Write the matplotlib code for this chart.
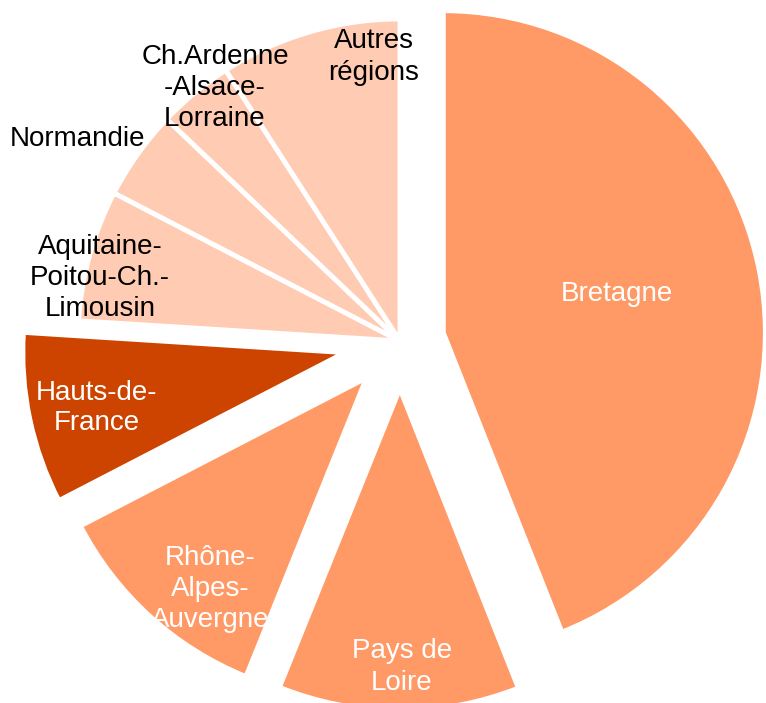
import matplotlib.pyplot as plt

# parts of the pie, in %, clockwise from 12 o'clock
regions = ["Bretagne", "Pays de\nLoire", "Rhône-\nAlpes-\nAuvergne", "Hauts-de-\nFrance",
           "Aquitaine-\nPoitou-Ch.-\nLimousin", "Normandie", "Ch.Ardenne\n-Alsace-\nLorraine",
           "Autres\nrégions"]
shares = [44.0, 12.1, 11.3, 8.6, 6.6, 4.5, 3.8, 9.1]

mid = "#FF9966"
dark = "#CC4400"
light = "#FFCBB3"
colors = [mid, mid, mid, dark, light, light, light, light]
text_colors = ["white", "white", "white", "white", "black", "black", "black", "black"]
R = 322
explode = [f * R for f in [0.137, 0.148, 0.155, 0.175, 0, 0, 0, 0]]

# label centres in pixels (x, y from top)
label_pos = [(617, 294), (402, 667), (210, 589), (97, 408),
             (100, 278), (78, 139), (215, 88), (374, 57)]

W, H = 766, 703
fig = plt.figure(figsize=(W / 100, H / 100), dpi=100)
ax = fig.add_axes([0, 0, 1, 1])

ax.pie(shares, colors=colors, explode=explode, startangle=90, counterclock=False,
       center=(400, H - 341), radius=R,
       wedgeprops=dict(edgecolor="white", linewidth=3.5))

for lab, (x, y), c in zip(regions, label_pos, text_colors):
    ax.text(x, H - y, lab, ha="center", va="center", color=c, fontsize=20,
            family="Liberation Sans", linespacing=1.25, zorder=10)

ax.set_xlim(0, W)
ax.set_ylim(0, H)
ax.set_aspect("equal")
ax.axis("off")

fig.savefig("out.png", dpi=100)
